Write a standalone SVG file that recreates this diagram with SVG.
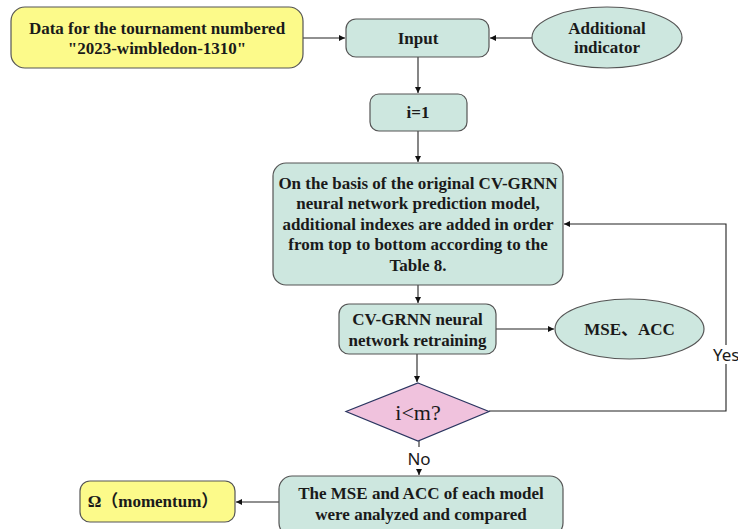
<svg xmlns="http://www.w3.org/2000/svg" width="738" height="529" viewBox="0 0 738 529">
<style>
.t{font-family:"Liberation Serif","Noto Sans CJK SC",serif;font-weight:bold;font-size:17px;fill:#1a1a1a;text-anchor:middle;dominant-baseline:central}
.lb{font-family:"Noto Sans","Open Sans",sans-serif;font-size:17px;fill:#1a1a1a;dominant-baseline:central}
.y{fill:#fcfa8a;stroke:#555;stroke-width:1.2}
.g{fill:#cde7df;stroke:#555;stroke-width:1.2}
.c{fill:none;stroke:#222;stroke-width:1.1}
</style>
<defs>
<marker id="ah" viewBox="0 0 10 10" refX="10" refY="5" markerWidth="6" markerHeight="6" orient="auto" markerUnits="userSpaceOnUse">
<path d="M0,0 L10,5 L0,10 z" fill="#111"/>
</marker>
</defs>
<g id="connectors">
<line class="c" x1="303" y1="38" x2="345" y2="38" marker-end="url(#ah)"/>
<line class="c" x1="532" y1="38" x2="490" y2="38" marker-end="url(#ah)"/>
<line class="c" x1="418" y1="57" x2="418" y2="93" marker-end="url(#ah)"/>
<line class="c" x1="418" y1="131" x2="418" y2="162" marker-end="url(#ah)"/>
<line class="c" x1="418" y1="285" x2="418" y2="303" marker-end="url(#ah)"/>
<line class="c" x1="496" y1="329" x2="554" y2="329" marker-end="url(#ah)"/>
<line class="c" x1="417" y1="354" x2="417" y2="382" marker-end="url(#ah)"/>
<polyline class="c" points="489,411 726,411 726,364"/>
<polyline class="c" points="726,345 726,224 564,224" marker-end="url(#ah)"/>
<line class="c" x1="419" y1="441" x2="419" y2="447"/>
<line class="c" x1="419" y1="469" x2="419" y2="475" marker-end="url(#ah)"/>
<line class="c" x1="279" y1="502" x2="236" y2="502" marker-end="url(#ah)"/>
<text class="lb" x="713" y="354">Yes</text>
<text class="lb" x="419" y="458" text-anchor="middle">No</text>
</g>
<g id="data">
<rect class="y" x="11" y="7" width="292" height="61" rx="14"/>
<text class="t" x="157" y="28">Data for the tournament numbered</text>
<text class="t" x="157" y="48">"2023-wimbledon-1310"</text>
</g>
<g id="input">
<rect class="g" x="346" y="19" width="143" height="38" rx="10"/>
<text class="t" x="418" y="38">Input</text>
</g>
<g id="additional">
<ellipse class="g" cx="607" cy="37.5" rx="75" ry="30.5"/>
<text class="t" x="607" y="28">Additional</text>
<text class="t" x="607" y="47">indicator</text>
</g>
<g id="init">
<rect class="g" x="370" y="94" width="97" height="37" rx="9"/>
<text class="t" x="418" y="112.5">i=1</text>
</g>
<g id="basis">
<rect class="g" x="273" y="163" width="290" height="122" rx="13"/>
<text class="t" x="418" y="183">On the basis of the original CV-GRNN</text>
<text class="t" x="418" y="203.5">neural network prediction model,</text>
<text class="t" x="418" y="224">additional indexes are added in order</text>
<text class="t" x="418" y="244.5">from top to bottom according to the</text>
<text class="t" x="418" y="265">Table 8.</text>
</g>
<g id="retrain">
<rect class="g" x="339" y="304" width="157" height="50" rx="10"/>
<text class="t" x="417.5" y="319">CV-GRNN neural</text>
<text class="t" x="417.5" y="340">network retraining</text>
</g>
<g id="mse">
<ellipse class="g" cx="629.5" cy="329" rx="74.5" ry="30"/>
<text class="t" x="629.5" y="329">MSE、ACC</text>
</g>
<g id="decision">
<polygon points="418,383 489,411.5 418,441 346,411.5" fill="#f0c2dd" stroke="#2a3560" stroke-width="1.2"/>
<text x="418" y="412" style="font-family:'Liberation Serif',serif;font-size:22px;fill:#1a1a1a;text-anchor:middle;dominant-baseline:central">i&lt;m?</text>
</g>
<g id="compare">
<rect class="g" x="279" y="476" width="284" height="60" rx="13"/>
<text class="t" x="421" y="493">The MSE and ACC of each model</text>
<text class="t" x="421" y="514">were analyzed and compared</text>
</g>
<g id="omega">
<rect class="y" x="80" y="481" width="155" height="41" rx="10"/>
<text class="t" x="153" y="501.5">Ω（momentum）</text>
</g>
</svg>
